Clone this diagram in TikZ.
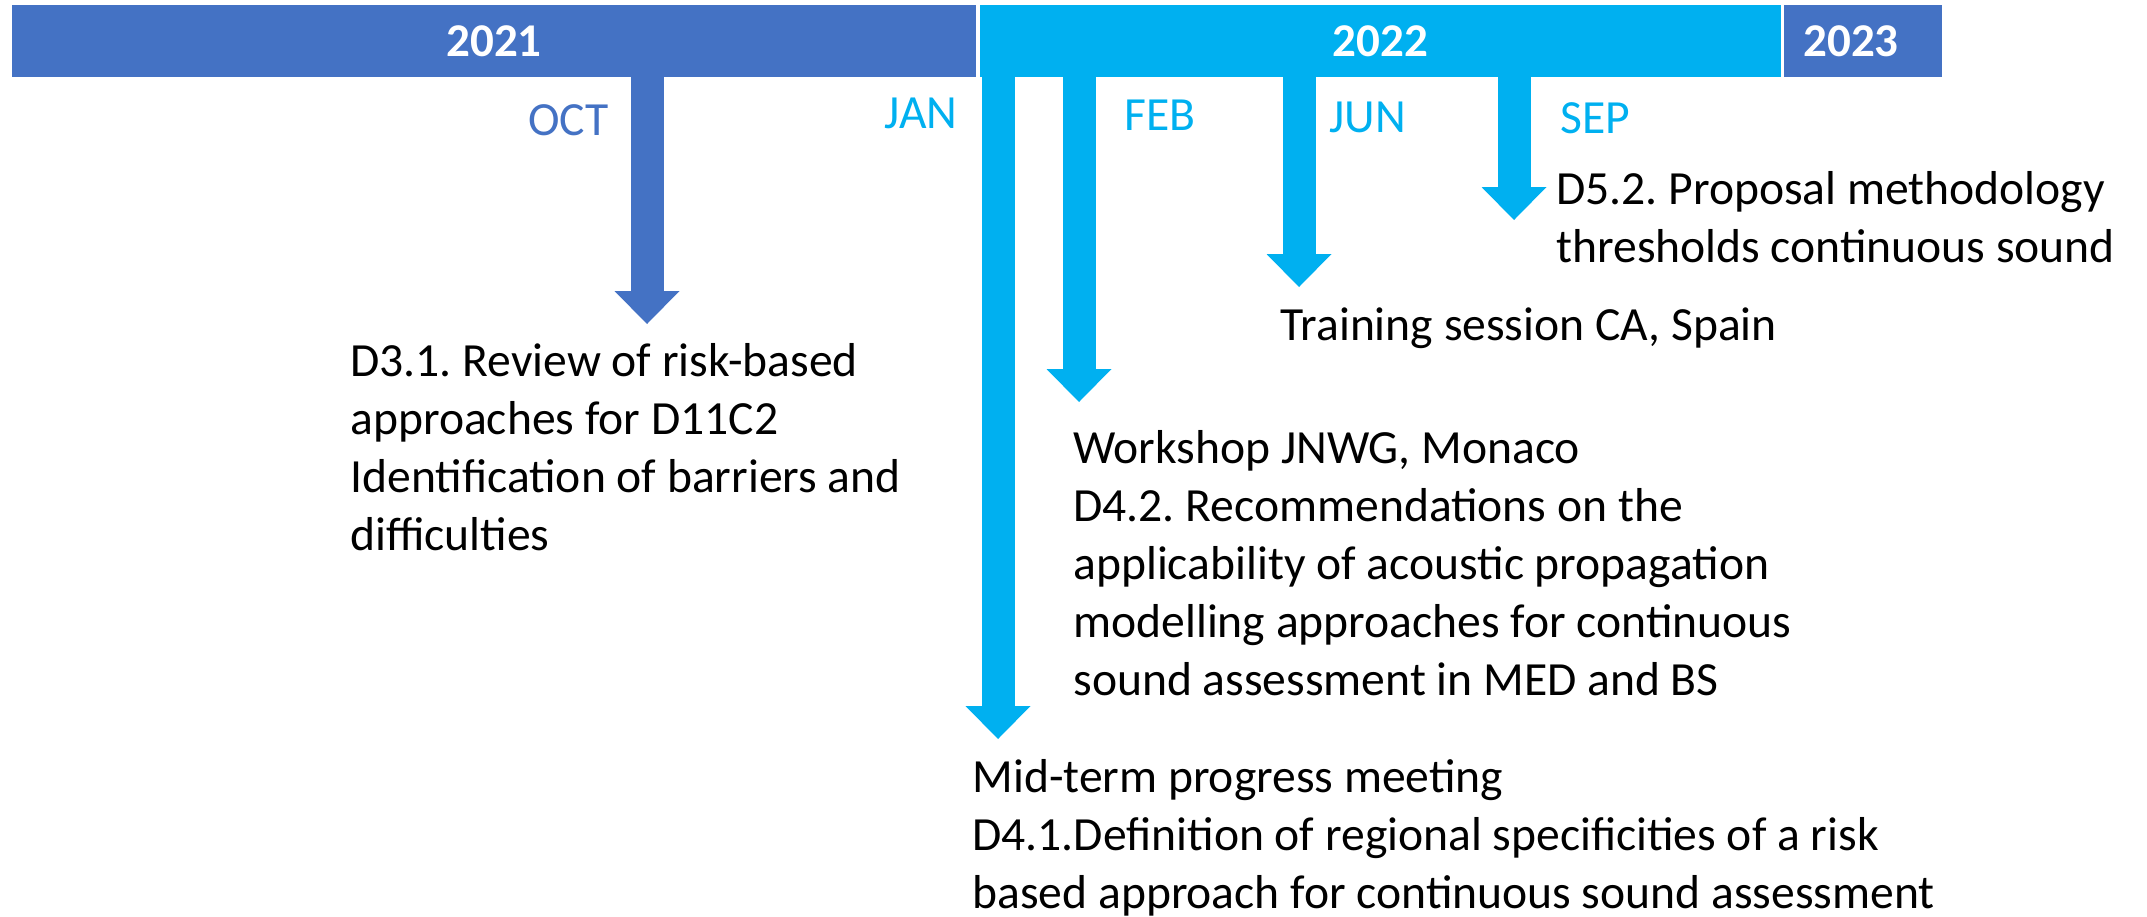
\documentclass[tikz,border=0pt]{standalone}
\usepackage{fontspec}
\setmainfont{Carlito}
\usetikzlibrary{arrows.meta}
\definecolor{blue21}{HTML}{4472C4}
\definecolor{cyan22}{HTML}{00B0F0}
\frenchspacing
\tikzset{
  yearbar/.style={inner sep=0pt, minimum height=36pt, text=white,
    font=\bfseries\fontsize{23.5pt}{28pt}\selectfont},
  month/.style={inner sep=0pt, font=\fontsize{23.8pt}{29pt}\selectfont},
  event/.style={inner sep=0pt, align=left, font=\fontsize{23.8pt}{29pt}\selectfont},
  milestone/.style={line width=16.5pt,
    -{Triangle[width=32.5pt,length=16.5pt,line width=0pt]}},
}
\begin{document}
\begin{tikzpicture}[x=0.5pt,y=-0.5pt]
  \useasboundingbox (0,0) rectangle (2147,916);
  \node[yearbar, fill=blue21, minimum width=482pt] (y2021) at (494,41) {2021};
  \node[yearbar, fill=cyan22, minimum width=400.5pt] (y2022) at (1380.5,41) {2022};
  \node[yearbar, fill=blue21, minimum width=79pt] (y2023) at (1863,41) {\hspace*{-12pt}2023};
  \coordinate (octtip) at (647,324);
  \coordinate (jantip) at (998,739);
  \coordinate (febtip) at (1079,402);
  \coordinate (juntip) at (1299,287);
  \coordinate (septip) at (1514,220);
  \draw[milestone, blue21] (y2021.south -| octtip) -- (octtip);
  \draw[milestone, cyan22] (y2022.south -| jantip) -- (jantip);
  \draw[milestone, cyan22] (y2022.south -| febtip) -- (febtip);
  \draw[milestone, cyan22] (y2022.south -| juntip) -- (juntip);
  \draw[milestone, cyan22] (y2022.south -| septip) -- (septip);
  \node[month, text=blue21, anchor=base east] (oct) at (609,135) {OCT};
  \node[month, text=cyan22, anchor=base east] (jan) at (958,128) {JAN};
  \node[month, text=cyan22, anchor=base west] (feb) at (1124,130) {FEB};
  \node[month, text=cyan22, anchor=base west] (jun) at (1329,132) {JUN};
  \node[month, text=cyan22, anchor=base west] (sep) at (1560,133) {SEP};
  \node[event, anchor=base west] (review) at (350,550)
    {D3.1. Review of risk-based\\approaches for D11C2\\Identification of barriers and\\difficulties};
  \node[event, anchor=base west] (workshop) at (1073,695)
    {Workshop JNWG, Monaco\\D4.2. Recommendations on the\\applicability of acoustic propagation\\modelling approaches for continuous\\sound assessment in MED and BS};
  \node[event, anchor=base west] (midterm) at (972,908)
    {Mid-term progress meeting\\D4.1.Definition of regional specificities of a risk\\based approach for continuous sound assessment};
  \node[event, anchor=base west] (training) at (1280,340) {Training session CA, Spain};
  \node[event, anchor=base west] (proposal) at (1556,262)
    {D5.2. Proposal methodology\\thresholds continuous sound};
\end{tikzpicture}
\end{document}
